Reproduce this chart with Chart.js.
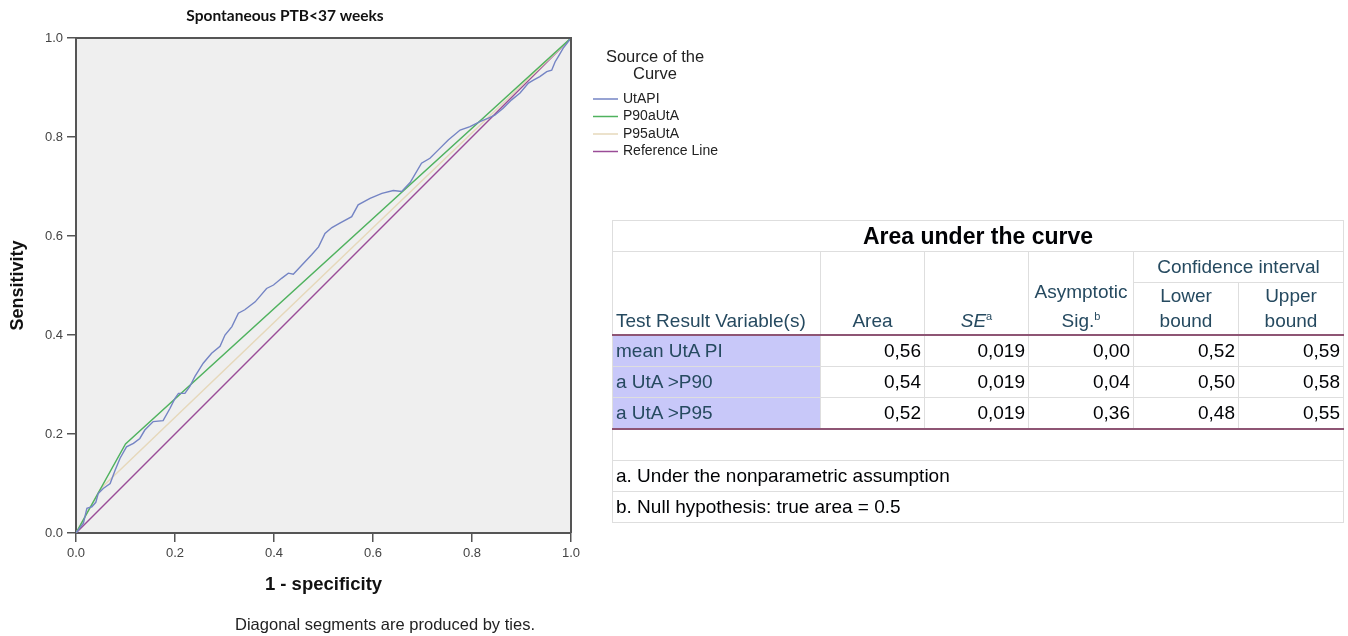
<!DOCTYPE html>
<html>
<head>
<meta charset="utf-8">
<script src="https://cdn.jsdelivr.net/npm/chart.js@4.4.1/dist/chart.umd.min.js"></script>
<style>
  body { margin: 0; background: #fff; width: 1348px; height: 636px; overflow: hidden; position: relative; font-family: "Liberation Sans", Arial, sans-serif; }
  #wrap { position: absolute; left: 0; top: 0; width: 760px; height: 636px; }
  table.auc { position: absolute; left: 612px; top: 220px; width: 731px; border-collapse: collapse; table-layout: fixed; font-size: 19px; color: #264a60; }
  table.auc td, table.auc th { border: 1px solid #dedede; padding: 0 3px; font-weight: normal; white-space: nowrap; overflow: hidden; }
  table.auc .ttl { text-align: center; font-weight: bold; font-size: 23px; color: #010205; height: 30px; }
  table.auc th { vertical-align: bottom; line-height: 25px; padding-bottom: 1px; text-align: center; }
  table.auc th.lft { text-align: left; }
  table.auc .dk { border-left: 1px solid #333; }
  table.auc .hb { border-bottom: 2px solid #8e5574; }
  table.auc tr.row td { height: 30px; }
  table.auc td.lab { background: #c8c8f9; color: #264a60; }
  table.auc td.num { text-align: right; color: #010205; padding-right: 3px; }
  table.auc td.foot { color: #010205; height: 30px; }
  table.auc sup { font-size: 11px; }
</style>
</head>
<body>
<div id="wrap"><canvas id="roc"></canvas></div>

<table class="auc" id="auc">
  <colgroup><col style="width:208px"><col style="width:104px"><col style="width:104px"><col style="width:105px"><col style="width:105px"><col style="width:105px"></colgroup>
  <tr><td colspan="6" class="ttl">Area under the curve</td></tr>
  <tr style="height:31px">
    <th rowspan="2" class="lft hb">Test Result Variable(s)</th>
    <th rowspan="2" class="hb">Area</th>
    <th rowspan="2" class="dk hb"><i>SE</i><sup>a</sup></th>
    <th rowspan="2" class="dk hb">Asymptotic<br>Sig.<sup>b</sup></th>
    <th colspan="2" class="dk" style="vertical-align:middle">Confidence interval</th>
  </tr>
  <tr style="height:48px">
    <th class="dk hb">Lower<br>bound</th>
    <th class="dk hb">Upper<br>bound</th>
  </tr>
</table>

<script>
// ROC curve points
const utapiFpr = [0, 0.015, 0.022, 0.032, 0.040, 0.045, 0.055, 0.069, 0.079, 0.089, 0.102, 0.116, 0.129, 0.139, 0.156, 0.176, 0.190, 0.200, 0.207, 0.220, 0.230, 0.240, 0.257, 0.274, 0.291, 0.301, 0.315, 0.328, 0.341, 0.362, 0.385, 0.399, 0.416, 0.429, 0.439, 0.456, 0.476, 0.490, 0.503, 0.517, 0.533, 0.557, 0.570, 0.594, 0.618, 0.641, 0.658, 0.675, 0.698, 0.715, 0.732, 0.752, 0.776, 0.796, 0.816, 0.833, 0.846, 0.863, 0.880, 0.897, 0.914, 0.924, 0.937, 0.951, 0.961, 0.968, 0.974, 0.984, 1];
const utapiSens = [0, 0.020, 0.050, 0.053, 0.062, 0.080, 0.090, 0.100, 0.127, 0.151, 0.174, 0.181, 0.191, 0.208, 0.225, 0.227, 0.252, 0.272, 0.282, 0.282, 0.296, 0.316, 0.343, 0.363, 0.377, 0.400, 0.417, 0.444, 0.451, 0.467, 0.494, 0.501, 0.515, 0.525, 0.523, 0.541, 0.562, 0.578, 0.605, 0.617, 0.626, 0.639, 0.663, 0.676, 0.686, 0.692, 0.690, 0.708, 0.747, 0.757, 0.774, 0.794, 0.814, 0.821, 0.831, 0.838, 0.844, 0.858, 0.875, 0.889, 0.909, 0.915, 0.922, 0.932, 0.935, 0.952, 0.962, 0.979, 1];
const p90Fpr = [0, 0.10, 1];
const p90Sens = [0, 0.18, 1];
const p95Fpr = [0, 0.05, 1];
const p95Sens = [0, 0.09, 1];
const refFpr = [0, 1];
const refSens = [0, 1];

const seriesNames = ['UtAPI', 'P90aUtA', 'P95aUtA', 'Reference Line'];
const seriesColors = ['#7484c4', '#4fb25e', '#e6d8bb', '#9a4c97'];
const tickLabels = ['0.0', '0.2', '0.4', '0.6', '0.8', '1.0'];

// table values
const rowNames = ['mean UtA PI', 'a UtA >P90', 'a UtA >P95'];
const areas = ['0,56', '0,54', '0,52'];
const stdErr = ['0,019', '0,019', '0,019'];
const sigs = ['0,00', '0,04', '0,36'];
const lowerB = ['0,52', '0,50', '0,48'];
const upperB = ['0,59', '0,58', '0,55'];
const footnotes = ['a. Under the nonparametric assumption', 'b. Null hypothesis: true area = 0.5'];

function pts(xs, ys) { return xs.map((x, i) => ({ x: x, y: ys[i] })); }

const tbl = document.getElementById('auc');
rowNames.forEach((name, i) => {
  const tr = document.createElement('tr');
  tr.className = 'row';
  const last = i === rowNames.length - 1 ? ' hb' : '';
  tr.innerHTML = '<td class="lab' + last + '">' + name + '</td>' +
    '<td class="num' + last + '">' + areas[i] + '</td>' +
    '<td class="num dk' + last + '">' + stdErr[i] + '</td>' +
    '<td class="num dk' + last + '">' + sigs[i] + '</td>' +
    '<td class="num dk' + last + '">' + lowerB[i] + '</td>' +
    '<td class="num dk' + last + '">' + upperB[i] + '</td>';
  tbl.appendChild(tr);
});
const blank = document.createElement('tr');
blank.innerHTML = '<td colspan="6" class="foot"></td>';
tbl.appendChild(blank);
footnotes.forEach(f => {
  const tr = document.createElement('tr');
  tr.innerHTML = '<td colspan="6" class="foot">' + f + '</td>';
  tbl.appendChild(tr);
});

const decor = {
  id: 'decor',
  beforeDraw(chart) {
    const a = chart.chartArea, ctx = chart.ctx;
    ctx.save();
    ctx.fillStyle = '#efefef';
    ctx.fillRect(a.left, a.top, a.right - a.left, a.bottom - a.top);
    ctx.restore();
  },
  afterDraw(chart) {
    const a = chart.chartArea, ctx = chart.ctx;
    ctx.save();
    // top and right frame
    ctx.strokeStyle = '#555';
    ctx.lineWidth = 2;
    ctx.beginPath();
    ctx.moveTo(a.left, a.top);
    ctx.lineTo(a.right, a.top);
    ctx.lineTo(a.right, a.bottom);
    ctx.stroke();

    // chart title
    ctx.fillStyle = '#111';
    ctx.textAlign = 'center';
    ctx.textBaseline = 'middle';
    ctx.font = 'bold 15.5px Lato, "Open Sans", sans-serif';
    ctx.fillText('Spontaneous PTB<37 weeks', 285, 16);

    // footnote
    ctx.font = '16.5px "Liberation Sans", Arial, sans-serif';
    ctx.fillStyle = '#222';
    ctx.fillText('Diagonal segments are produced by ties.', 385, 625);

    // legend
    ctx.font = '16.5px "Liberation Sans", Arial, sans-serif';
    ctx.fillText('Source of the', 655, 57);
    ctx.fillText('Curve', 655, 74);
    ctx.font = '14px "Liberation Sans", Arial, sans-serif';
    ctx.textAlign = 'left';
    chart.data.datasets.forEach((ds, i) => {
      const y = 99 + i * 17.5;
      ctx.strokeStyle = ds.borderColor;
      ctx.lineWidth = 1.5;
      ctx.beginPath();
      ctx.moveTo(593, y);
      ctx.lineTo(618, y);
      ctx.stroke();
      ctx.fillStyle = '#222';
      ctx.fillText(ds.label, 623, y);
    });
    ctx.restore();
  }
};

const axisCommon = {
  type: 'linear',
  min: 0,
  max: 1,
  ticks: {
    stepSize: 0.2,
    color: '#444',
    padding: 4,
    font: { size: 13 },
    callback: (v) => tickLabels[Math.round(v * 5)]
  },
  grid: { drawOnChartArea: false, tickLength: 9, color: '#555', lineWidth: 1.5 },
  border: { color: '#555', width: 2 }
};

new Chart(document.getElementById('roc'), {
  type: 'line',
  data: {
    datasets: seriesNames.map((name, i) => ({
      label: name,
      data: [pts(utapiFpr, utapiSens), pts(p90Fpr, p90Sens), pts(p95Fpr, p95Sens), pts(refFpr, refSens)][i],
      borderColor: seriesColors[i]
    }))
  },
  options: {
    responsive: true,
    maintainAspectRatio: false,
    animation: false,
    elements: {
      point: { radius: 0 },
      line: { borderWidth: 1.4, tension: 0 }
    },
    layout: { padding: { left: 0, top: 38, right: 189, bottom: 36 } },
    plugins: {
      legend: { display: false },
      tooltip: { enabled: false }
    },
    scales: {
      x: Object.assign({}, axisCommon, {
        title: { display: true, text: '1 - specificity', color: '#111', font: { size: 18.5, weight: 'bold' }, padding: { top: 4, bottom: 4 } },
        afterFit(s) { s.height = 67; }
      }),
      y: Object.assign({}, axisCommon, {
        title: { display: true, text: 'Sensitivity', color: '#111', font: { size: 18, weight: 'bold' }, padding: { top: 7, bottom: 4 } },
        afterFit(s) { s.width = 76; }
      })
    }
  },
  plugins: [decor]
});
</script>
</body>
</html>
